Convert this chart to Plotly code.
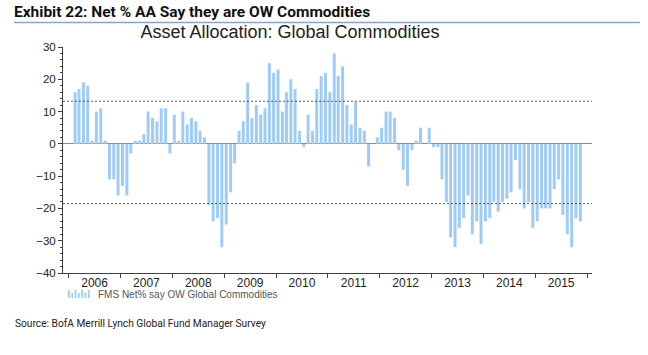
import pandas as pd
import plotly.graph_objects as go

# ---- data ----
months = pd.date_range("2006-02-01", periods=118, freq="MS") + pd.Timedelta(days=14)
net_ow = [16, 17, 19, 18, 1, 10, 11, 1, -11, -11, -16, -13, -16, -3, 1, 1, 3, 10, 8, 7,
          11, 11, -3, 9, 1, 10, 6, 8, 7,
          4, 2, -19, -24, -23, -32, -25, -15, -6, 4, 7, 19, 8, 12, 9, 11, 25, 22, 23, 10,
          16, 20, 17, 4, -1, 9, 4, 17, 21, 22, 16, 28, 21, 24, 12, 6, 13, 5, 4, -7, 0, 2,
          5, 10, 10,
          8, -2, -8, -13, -2, 1, 5, 0, 5, -1, -1, -11, -18, -29, -32, -26, -23, -16, -28,
          -24, -31, -24, -23, -18, -21, -18, -17, -15, -5, -14, -20, -18, -26, -24, -20,
          -20, -20, -14, -11, -22, -28, -32, -23, -24]
ref_levels = [13.2, -18.5]
y_ticks = [-40, -30, -20, -10, 0, 10, 20, 30]

exhibit_title = "Exhibit 22: Net % AA Say they are OW Commodities"
chart_title = "Asset Allocation: Global Commodities"
series_name = "FMS Net% say OW Global Commodities"
source_text = "Source: BofA Merrill Lynch Global Fund Manager Survey"

BAR = "#9FCBF7"
AXIS = "#404040"
FONT = "Arial, Liberation Sans, sans-serif"
NARROW = "Roboto, sans-serif"

W, H = 648, 355
PLOT_L, PLOT_R, PLOT_T, PLOT_B = 63, 592, 47, 273   # page pixels
L, T = PLOT_L, PLOT_T
R, B = W - PLOT_R, H - PLOT_B
PW, PH = PLOT_R - PLOT_L, PLOT_B - PLOT_T


def px_x(p):
    return (p - PLOT_L) / PW


def px_y(p):
    return (PLOT_B - p) / PH


fig = go.Figure()
fig.add_trace(go.Bar(x=months, y=net_ow, marker_color=BAR, marker_line_width=0,
                     width=21 * 86400000, name=series_name))

axis_common = dict(range=[-40, 30], tickvals=y_ticks, ticks="outside", ticklen=4,
                   tickcolor=AXIS, showline=True, linecolor=AXIS, linewidth=1,
                   showgrid=False, automargin=False,
                   tickfont=dict(family=FONT, size=11.5, color="#222"),
                   minor=dict(dtick=2, ticks="outside", ticklen=2, tickcolor=AXIS))

fig.update_layout(
    width=W, height=H,
    margin=dict(l=L, r=R, t=T, b=B, autoexpand=False),
    paper_bgcolor="white", plot_bgcolor="white",
    showlegend=False,
    title=dict(text=chart_title, x=290 / W, xref="container", xanchor="center",
               y=1 - 32 / H, yref="container", yanchor="middle", automargin=False,
               font=dict(family=FONT, size=18, color="#222")),
    xaxis=dict(type="date", range=["2005-11-22", "2016-02-05"], dtick="M12",
               tick0="2006-01-01", tickformat="%Y", ticklabelmode="period",
               ticks="outside", ticklen=4, tickcolor=AXIS, showline=True,
               linecolor=AXIS, linewidth=1, showgrid=False, zeroline=False,
               automargin=False, ticklabelstandoff=-5,
               tickfont=dict(family=FONT, size=12, color="#222")),
    yaxis=dict(**axis_common, zeroline=True, zerolinecolor="#8a8a8a", zerolinewidth=1),
    yaxis2=dict(**axis_common, overlaying="y", side="right", zeroline=False),
)

# dashed reference levels
for lv in ref_levels:
    fig.add_shape(type="line", xref="paper", yref="y", x0=0, x1=1, y0=lv, y1=lv,
                  line=dict(color="#555", width=1, dash="2px,2px"))

# header
fig.add_annotation(text="<b>" + exhibit_title + "</b>", xref="paper", yref="paper",
                   x=px_x(12), y=px_y(12), xanchor="left", yanchor="middle",
                   showarrow=False, font=dict(family=NARROW, size=15.5, color="#111"))
fig.add_shape(type="line", xref="paper", yref="paper", x0=px_x(14), x1=px_x(640),
              y0=px_y(22.5), y1=px_y(22.5), line=dict(color="#8aa2c6", width=1.5))

# legend (icon + text)
icon_h = [8, 5, 8, 5, 8, 5, 8]
for i, hh in enumerate(icon_h):
    x0 = 68 + i * 3.3
    fig.add_shape(type="rect", xref="paper", yref="paper", x0=px_x(x0), x1=px_x(x0 + 1.8),
                  y0=px_y(298), y1=px_y(298 - hh), line_width=0, fillcolor=BAR)
fig.add_annotation(text=series_name, xref="paper", yref="paper", x=px_x(96), y=px_y(294),
                   xanchor="left", yanchor="middle", showarrow=False,
                   font=dict(family=FONT, size=10, color="#555"))

# source
fig.add_annotation(text=source_text, xref="paper", yref="paper", x=px_x(13), y=px_y(323),
                   xanchor="left", yanchor="middle", showarrow=False,
                   font=dict(family=NARROW, size=10.2, color="#222"))

# remove the browser's default 8px body margin so the figure sits at the page origin
fig.write_html("out.html", config={"displayModeBar": False},
               post_script="document.body.style.margin='0px';document.body.style.overflow='hidden';")
